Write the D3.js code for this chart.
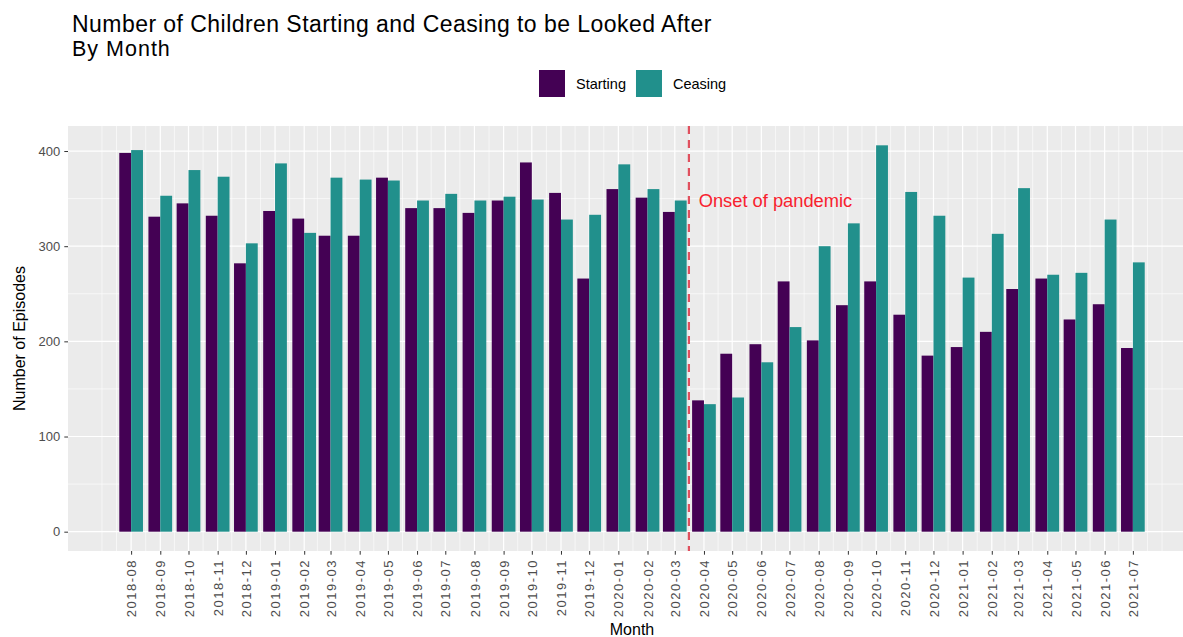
<!DOCTYPE html>
<html>
<head>
<meta charset="utf-8">
<script src="https://cdn.jsdelivr.net/npm/d3@7"></script>
<style>
  body { margin: 0; background: #fff; }
  svg { display: block; font-family: "Liberation Sans", Arial, sans-serif; }
</style>
</head>
<body>
<svg id="chart" width="1183" height="637"></svg>
<script>
// months on the x axis, first of each month
var months = ['2018-08','2018-09','2018-10','2018-11','2018-12',
  '2019-01','2019-02','2019-03','2019-04','2019-05','2019-06','2019-07','2019-08','2019-09','2019-10','2019-11','2019-12',
  '2020-01','2020-02','2020-03','2020-04','2020-05','2020-06','2020-07','2020-08','2020-09','2020-10','2020-11','2020-12',
  '2021-01','2021-02','2021-03','2021-04','2021-05','2021-06','2021-07'];

var starting = [398,331,345,332,282, 337,329,311,311,372,340,340,335,348,388,356,266,
  360,351,336,138,187,197,263,201,238,263,228,185, 194,210,255,266,223,239,193];

var ceasing = [401,353,380,373,303, 387,314,372,370,369,348,355,348,352,349,328,333,
  386,360,348,134,141,178,215,300,324,406,357,332, 267,313,361,270,272,328,283];

var seriesNames = ['Starting', 'Ceasing'];
var seriesColors = ['#440154', '#21908C'];
var yTicks = [0, 100, 200, 300, 400];
var onsetDate = '2020-03-16';
var onsetLabel = 'Onset of pandemic';
var onsetLabelAt = ['2020-06-16', 348];

var svg = d3.select('#chart');
var parseMonth = d3.utcParse('%Y-%m');
var parseDay = d3.utcParse('%Y-%m-%d');
var DAY = 864e5;

var dates = months.map(parseMonth);
var rows = dates.map(function(d, i) {
  return { date: d, label: months[i], values: [starting[i], ceasing[i]] };
});

// panel box (bottom is what ggplot gave, right side runs off the picture)
var panel = { left: 68, top: 126, right: 1196, bottom: 551 };

// bar width = 0.9 * smallest gap between months (28 days), like geom_col
var barDays = 0.9 * 28;
var lo = new Date(+dates[0] - barDays / 2 * DAY);
var hi = new Date(+dates[dates.length - 1] + barDays / 2 * DAY);
var pad = (hi - lo) * 0.05;

var x = d3.scaleUtc()
  .domain([new Date(+lo - pad), new Date(+hi + pad)])
  .range([panel.left, panel.right]);

var yMax = d3.max(starting.concat(ceasing));
var y = d3.scaleLinear()
  .domain([-yMax * 0.05, yMax * 1.05])
  .range([panel.bottom, panel.top]);

var barW = x(new Date(+dates[0] + barDays * DAY)) - x(dates[0]);

// titles
svg.append('text')
  .attr('x', 72).attr('y', 32)
  .attr('font-size', 23).attr('letter-spacing', 0.45).attr('fill', '#000')
  .text('Number of Children Starting and Ceasing to be Looked After');
svg.append('text')
  .attr('x', 72).attr('y', 55.5)
  .attr('font-size', 21.5).attr('letter-spacing', 1).attr('fill', '#000')
  .text('By Month');

// panel background
svg.append('rect')
  .attr('x', panel.left).attr('y', panel.top)
  .attr('width', panel.right - panel.left).attr('height', panel.bottom - panel.top)
  .attr('fill', '#EBEBEB');

var grid = svg.append('g').attr('class', 'grid');

// minor x grid: midpoints between month breaks, one extra break each side
var step = +dates[1] - +dates[0];
var ext = [new Date(+dates[0] - step)].concat(dates, [new Date(+dates[dates.length - 1] + step)]);
var minorX = [];
for (var i = 0; i < ext.length - 1; i++) {
  minorX.push(new Date((+ext[i] + +ext[i + 1]) / 2));
}
minorX.push(ext[0], ext[ext.length - 1]);

grid.selectAll('.minor-x').data(minorX).enter().append('line')
  .attr('x1', function(d) { return x(d); }).attr('x2', function(d) { return x(d); })
  .attr('y1', panel.top).attr('y2', panel.bottom)
  .attr('stroke', '#fff').attr('stroke-width', 0.6);

var minorY = [];
for (var j = 0; j < yTicks.length - 1; j++) minorY.push((yTicks[j] + yTicks[j + 1]) / 2);
grid.selectAll('.minor-y').data(minorY).enter().append('line')
  .attr('x1', panel.left).attr('x2', panel.right)
  .attr('y1', function(d) { return y(d); }).attr('y2', function(d) { return y(d); })
  .attr('stroke', '#fff').attr('stroke-width', 0.6);

grid.selectAll('.major-x').data(dates).enter().append('line')
  .attr('x1', function(d) { return x(d); }).attr('x2', function(d) { return x(d); })
  .attr('y1', panel.top).attr('y2', panel.bottom)
  .attr('stroke', '#fff').attr('stroke-width', 1.2);

grid.selectAll('.major-y').data(yTicks).enter().append('line')
  .attr('x1', panel.left).attr('x2', panel.right)
  .attr('y1', function(d) { return y(d); }).attr('y2', function(d) { return y(d); })
  .attr('stroke', '#fff').attr('stroke-width', 1.2);

// dodged bars
var groups = svg.append('g').selectAll('g').data(rows).enter().append('g');
groups.selectAll('rect')
  .data(function(d) {
    return d.values.map(function(v, k) { return { date: d.date, value: v, k: k }; });
  })
  .enter().append('rect')
  .attr('x', function(d) { return x(d.date) - barW / 2 + d.k * barW / 2; })
  .attr('width', barW / 2)
  .attr('y', function(d) { return y(d.value); })
  .attr('height', function(d) { return y(0) - y(d.value); })
  .attr('fill', function(d) { return seriesColors[d.k]; });

// pandemic marker
var onset = parseDay(onsetDate);
svg.append('line')
  .attr('x1', x(onset)).attr('x2', x(onset))
  .attr('y1', panel.top).attr('y2', panel.bottom)
  .attr('stroke', '#E0505E').attr('stroke-width', 2.2)
  .attr('stroke-dasharray', '8,6');

svg.append('text')
  .attr('x', x(parseDay(onsetLabelAt[0]))).attr('y', y(onsetLabelAt[1]))
  .attr('dy', '0.35em').attr('text-anchor', 'middle')
  .attr('font-size', 18.3).attr('fill', '#F8222E')
  .text(onsetLabel);

// y axis
var yAxis = svg.append('g')
  .attr('transform', 'translate(' + panel.left + ',0)')
  .call(d3.axisLeft(y).tickValues(yTicks).tickSize(3.7).tickPadding(4).tickFormat(d3.format('d')));
yAxis.select('.domain').remove();
yAxis.selectAll('line').attr('stroke', '#333');
yAxis.selectAll('text').attr('fill', '#4D4D4D').attr('font-size', 13)
  .style('font-family', '"Liberation Sans", Arial, sans-serif');

// x axis, labels turned upright
var xAxis = svg.append('g')
  .attr('transform', 'translate(0,' + panel.bottom + ')')
  .call(d3.axisBottom(x).tickValues(dates).tickSize(3.7).tickFormat(d3.utcFormat('%Y-%m')));
xAxis.select('.domain').remove();
xAxis.selectAll('line').attr('stroke', '#333');
xAxis.selectAll('text')
  .attr('fill', '#4D4D4D').attr('font-size', 13).attr('letter-spacing', 1.5)
  .style('font-family', '"Liberation Sans", Arial, sans-serif')
  .attr('text-anchor', 'end')
  .attr('x', -8).attr('y', 0).attr('dy', '0.35em')
  .attr('transform', 'rotate(-90)');

// axis titles
svg.append('text')
  .attr('transform', 'translate(25,' + (panel.top + panel.bottom) / 2 + ') rotate(-90)')
  .attr('text-anchor', 'middle').attr('font-size', 16).attr('fill', '#000')
  .text('Number of Episodes');
svg.append('text')
  .attr('x', (panel.left + panel.right) / 2).attr('y', 635)
  .attr('text-anchor', 'middle').attr('font-size', 16).attr('fill', '#000')
  .text('Month');

// legend, centred over the panel
var legend = svg.append('g').attr('transform', 'translate(539,70)');
var lx = 0;
seriesNames.forEach(function(name, k) {
  var item = legend.append('g').attr('transform', 'translate(' + lx + ',0)');
  item.append('rect').attr('width', 26).attr('height', 27).attr('fill', seriesColors[k]);
  var t = item.append('text')
    .attr('x', 37).attr('y', 14).attr('dy', '0.35em')
    .attr('font-size', 14.5).attr('fill', '#000')
    .text(name);
  lx += 37 + t.node().getComputedTextLength() + 10;
});
</script>
</body>
</html>
